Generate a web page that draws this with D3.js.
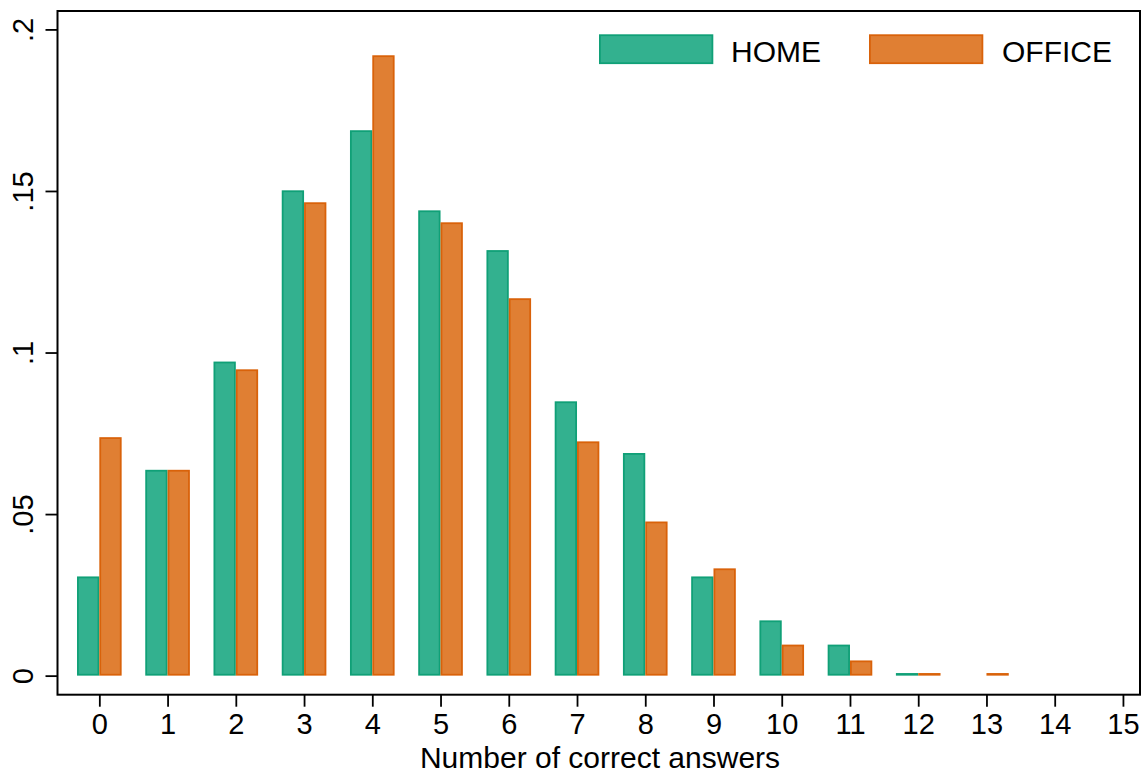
<!DOCTYPE html>
<html><head><meta charset="utf-8">
<script src="https://cdn.jsdelivr.net/npm/d3@7"></script>
<style>
body{margin:0;background:#fff;}
text{font-family:"Liberation Sans",Arial,Helvetica,sans-serif;fill:#000;}
</style></head>
<body><svg id="c" width="1146" height="775"></svg>
<script>
const categories = [0,1,2,3,4,5,6,7,8,9,10,11,12,13,14,15];
const home   = [0.0307,0.0637,0.0972,0.1502,0.1688,0.1440,0.1317,0.0849,0.0689,0.0307,0.0171,0.0096,0.0008,0,0,0];
const office = [0.0738,0.0637,0.0948,0.1465,0.1920,0.1403,0.1168,0.0725,0.0477,0.0332,0.0096,0.0047,0.0008,0.0008,0,0];
const seriesNames = ["HOME","OFFICE"];
const yTicks = [0,0.05,0.1,0.15,0.2];
const yTickLabels = ["0",".05",".1",".15",".2"];
const xTitle = "Number of correct answers";

const fills = ["#33b18f","#e07f33"];
const strokes = ["#10a077","#d9620a"];

const svg = d3.select("#c");
const L=57.5,R=1140,T=11,B=694.7;
const x = d3.scaleLinear().domain([-0.613,15.25]).range([L,R]);
const y = d3.scaleLinear().domain([-0.0059,0.2057]).range([B,T]);
const bw = 0.327;

// bars
const series=[home,office];
series.forEach((vals,si)=>{
  svg.append("g").selectAll("rect").data(vals.map((v,i)=>({c:categories[i],v}))).join("rect")
    .filter(d=>d.v>0)
    .attr("x",d=>si===0? x(d.c-bw)+0.9 : x(d.c)+0.9)
    .attr("width",d=>x(bw)-x(0)-1.8)
    .attr("y",d=>y(d.v)+0.9)
    .attr("height",d=>Math.max(0.6,y(0)-y(d.v)-1.8))
    .attr("fill",fills[si]).attr("stroke",strokes[si]).attr("stroke-width",1.8);
});

// frame
svg.append("rect").attr("x",L).attr("y",T).attr("width",R-L).attr("height",B-T)
  .attr("fill","none").attr("stroke","#000").attr("stroke-width",2);

// x axis
const xa = svg.append("g").attr("transform",`translate(0,${B})`)
  .call(d3.axisBottom(x).tickValues(categories).tickSize(12).tickFormat(d3.format("d")));
xa.select(".domain").remove();
xa.selectAll("line").attr("stroke","#000").attr("stroke-width",1.8);
xa.selectAll("text").attr("font-size",29).attr("dy",null).attr("y",39);

// y axis
const ya = svg.append("g").attr("transform",`translate(${L},0)`)
  .call(d3.axisLeft(y).tickValues(yTicks).tickSize(12).tickFormat((d,i)=>yTickLabels[i]));
ya.select(".domain").remove();
ya.selectAll("line").attr("stroke","#000").attr("stroke-width",1.8);
ya.selectAll("text").attr("font-size",29).attr("x",null).attr("dy",null)
  .attr("text-anchor","middle").attr("transform","translate(-24.5,0) rotate(-90)").attr("y",0);

// x title
svg.append("text").attr("x",600).attr("y",768).attr("text-anchor","middle")
  .attr("font-size",30).text(xTitle);

// legend
const lg=[{sx:599,tx:731},{sx:869,tx:1002}];
seriesNames.forEach((n,i)=>{
  svg.append("rect").attr("x",lg[i].sx+0.9).attr("y",35.2).attr("width",112.5).attr("height",28)
    .attr("fill",fills[i]).attr("stroke",strokes[i]).attr("stroke-width",1.8);
  svg.append("text").attr("x",lg[i].tx).attr("y",61.5).attr("font-size",30).text(n);
});
</script></body></html>
